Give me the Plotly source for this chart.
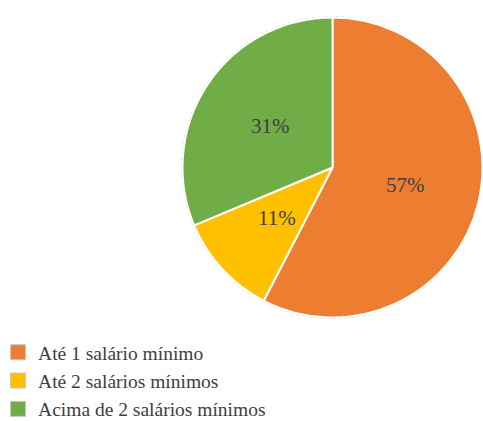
import math
import plotly.graph_objects as go

# Income brackets and their shares (%)
categories = ["Até 1 salário mínimo", "Até 2 salários mínimos", "Acima de 2 salários mínimos"]
shares = [57, 11, 31]
colors = ["#ED7D31", "#FFC000", "#70AD47"]

W, H = 483, 421
FONT = "Times New Roman, Liberation Serif, Tinos, DejaVu Serif, serif"

# Pie placement in pixels (centre and radius)
CX, CY, R = 332.5, 167.5, 150

fig = go.Figure()

fig.add_trace(go.Pie(
    labels=categories,
    values=shares,
    sort=False,
    direction="clockwise",
    rotation=0,
    marker=dict(colors=colors, line=dict(color="white", width=2)),
    textinfo="none",
    hoverinfo="label+value",
    showlegend=False,
    domain=dict(x=[(CX - R) / W, min(1.0, (CX + R) / W)],
                y=[1 - (CY + R) / H, 1 - (CY - R) / H]),
))

# Percentage labels placed halfway out along each slice's mid-angle
total = sum(shares)
annotations = []
start = 0.0
for v in shares:
    mid = (start + v / 2) / total * 2 * math.pi
    start += v
    px = CX + 0.5 * R * math.sin(mid)
    py = CY - 0.5 * R * math.cos(mid)
    annotations.append(dict(
        x=px / W, y=1 - py / H, xref="paper", yref="paper",
        xanchor="center", yanchor="middle",
        text=f"{v}%", showarrow=False,
        font=dict(family=FONT, size=21, color="#404040"),
    ))

# Legend entries with bordered square swatches
for name, col in zip(categories, colors):
    fig.add_trace(go.Scatter(
        x=[None], y=[None], mode="markers", name=name,
        marker=dict(symbol="square", size=15, color=col,
                    line=dict(color="#C8C8C8", width=1)),
    ))

fig.update_layout(
    width=W, height=H,
    margin=dict(l=0, r=0, t=0, b=0, autoexpand=False),
    paper_bgcolor="white",
    plot_bgcolor="white",
    xaxis=dict(visible=False),
    yaxis=dict(visible=False),
    legend=dict(
        x=-0.004, y=1 - 333 / H, xanchor="left", yanchor="top",
        font=dict(family=FONT, size=19.5, color="#404040"),
        itemwidth=30, tracegroupgap=0,
        bgcolor="rgba(0,0,0,0)",
    ),
    annotations=annotations,
    shapes=[dict(
        type="circle", xref="paper", yref="paper",
        x0=(CX - R - 1) / W, x1=min(1.0, (CX + R + 1) / W),
        y0=1 - (CY + R + 1) / H, y1=1 - (CY - R - 1) / H,
        line=dict(color="#D9D9D9", width=1, dash="dot"),
        layer="below",
    )],
)

fig.write_html("out.html")
